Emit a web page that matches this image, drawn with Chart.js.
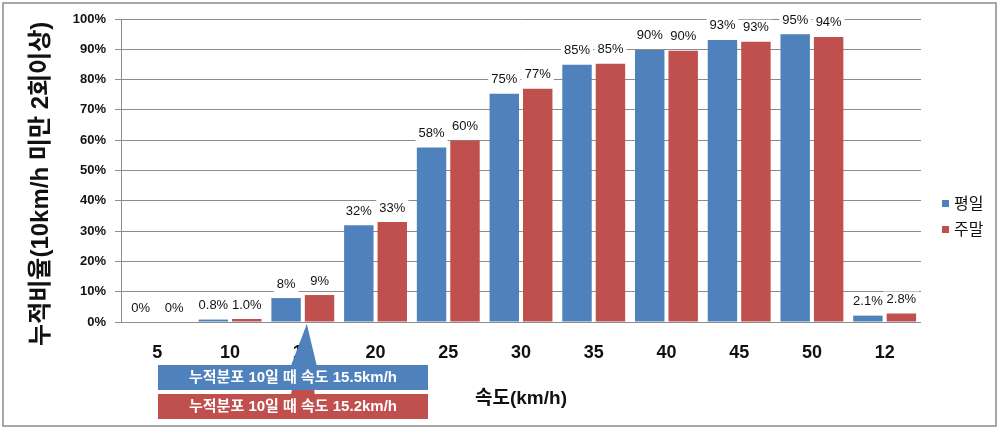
<!DOCTYPE html>
<html>
<head>
<meta charset="utf-8">
<script src="https://cdn.jsdelivr.net/npm/chart.js@4.4.0/dist/chart.umd.min.js"></script>
<style>
  html, body { margin: 0; padding: 0; background: #fff; }
  #wrap { width: 1000px; height: 429px; position: relative; }
</style>
</head>
<body>
<div id="wrap"><canvas id="chart"></canvas></div>
<script>
// speed categories (last one is labelled "12" in the source)
const SPEEDS = ['5', '10', '15', '20', '25', '30', '35', '40', '45', '50', '12'];

// cumulative share (%) — weekday / weekend
const WEEKDAY = [0, 0.8, 7.9, 31.9, 57.6, 75.3, 84.9, 89.8, 93.1, 95.0, 2.1];
const WEEKEND = [0, 1.0, 8.9, 33.0, 59.9, 77.0, 85.2, 89.5, 92.5, 94.1, 2.8];

// value labels as printed above the bars
const WEEKDAY_LABELS = ['0%', '0.8%', '8%', '32%', '58%', '75%', '85%', '90%', '93%', '95%', '2.1%'];
const WEEKEND_LABELS = ['0%', '1.0%', '9%', '33%', '60%', '77%', '85%', '90%', '93%', '94%', '2.8%'];

const SERIES_NAMES = ['평일', '주말'];
const CALLOUT_TEXTS = ['누적분포 10일 때 속도 15.5km/h', '누적분포 10일 때 속도 15.2km/h'];

const BLUE = '#4f81bd';
const RED = '#c0504d';
const GRID = '#8c8c8c';
const FONT = "'Liberation Sans', 'Noto Sans CJK KR', sans-serif";

// outer frame
const framePlugin = {
  id: 'frame',
  beforeDraw(chart) {
    const ctx = chart.ctx;
    ctx.save();
    ctx.fillStyle = '#fff';
    ctx.fillRect(0, 0, chart.width, chart.height);
    ctx.strokeStyle = '#8a8a8a';
    ctx.lineWidth = 1.5;
    ctx.strokeRect(3, 3, chart.width - 7, chart.height - 6);
    ctx.restore();
  },
};

// value labels with white background
const valueLabels = {
  id: 'valueLabels',
  afterDatasetsDraw(chart) {
    const ctx = chart.ctx;
    const labelSets = [WEEKDAY_LABELS, WEEKEND_LABELS];
    ctx.save();
    ctx.font = '13px ' + FONT;
    ctx.textAlign = 'center';
    ctx.textBaseline = 'middle';
    chart.data.datasets.forEach((ds, i) => {
      chart.getDatasetMeta(i).data.forEach((bar, j) => {
        const txt = labelSets[i][j];
        const y = bar.y - 14;
        const w = ctx.measureText(txt).width + 6;
        ctx.fillStyle = '#fff';
        ctx.fillRect(bar.x - w / 2, y - 8, w, 16);
        ctx.fillStyle = '#111';
        ctx.fillText(txt, bar.x, y);
      });
    });
    ctx.restore();
  },
};

// legend on the right + callouts under the "15" category
const extras = {
  id: 'extras',
  afterDraw(chart) {
    const ctx = chart.ctx;
    const area = chart.chartArea;
    ctx.save();

    // legend
    ctx.font = '16px ' + FONT;
    ctx.textBaseline = 'middle';
    ctx.textAlign = 'left';
    chart.data.datasets.forEach((ds, i) => {
      const y = 205 + i * 26;
      ctx.fillStyle = ds.backgroundColor;
      ctx.fillRect(area.right + 21, y - 5, 7, 7);
      ctx.fillStyle = '#111';
      ctx.fillText(ds.label, area.right + 33, y);
    });

    // callouts
    const cx = chart.scales.x.getPixelForValue(2) + 4;
    const tipY = area.bottom + 2;
    const boxL = 158, boxW = 270;
    const drawCallout = (color, boxTop, baseL, baseR, text) => {
      ctx.fillStyle = color;
      ctx.beginPath();
      ctx.moveTo(cx, tipY);
      ctx.lineTo(cx + baseR, boxTop + 1);
      ctx.lineTo(cx + baseL, boxTop + 1);
      ctx.closePath();
      ctx.fill();
      ctx.fillRect(boxL, boxTop, boxW, 25);
      ctx.fillStyle = '#fff';
      ctx.font = 'bold 15px ' + FONT;
      ctx.textAlign = 'center';
      ctx.fillText(text, boxL + boxW / 2, boxTop + 13);
    };
    drawCallout(RED, 394, -16, 8, CALLOUT_TEXTS[1]);
    drawCallout(BLUE, 365, -16, 10, CALLOUT_TEXTS[0]);

    ctx.restore();
  },
};

new Chart(document.getElementById('chart'), {
  type: 'bar',
  data: {
    labels: SPEEDS,
    datasets: [
      { label: SERIES_NAMES[0], data: WEEKDAY, backgroundColor: BLUE },
      { label: SERIES_NAMES[1], data: WEEKEND, backgroundColor: RED },
    ],
  },
  options: {
    responsive: true,
    maintainAspectRatio: false,
    animation: false,
    categoryPercentage: 0.92,
    barPercentage: 0.88,
    layout: { padding: { top: 19, left: 5, right: 79, bottom: 5 } },
    plugins: {
      legend: { display: false },
      tooltip: { enabled: false },
    },
    scales: {
      x: {
        grid: { display: false, drawTicks: false },
        border: { display: false },
        ticks: {
          color: '#111',
          padding: 20,
          font: { family: FONT, size: 18, weight: 'bold' },
        },
        title: {
          display: true,
          text: '속도(km/h)',
          color: '#111',
          padding: { top: 0, bottom: 14 },
          font: { family: FONT, size: 19, weight: 'bold' },
        },
        afterFit(scale) { scale.height = 102; },
      },
      y: {
        min: 0,
        max: 100,
        grid: { color: GRID, tickLength: 6, drawTicks: true },
        border: { display: true, color: GRID },
        ticks: {
          stepSize: 10,
          padding: 9,
          color: '#111',
          font: { family: FONT, size: 13, weight: 'bold' },
          callback: (v) => v + '%',
        },
        title: {
          display: true,
          // trailing spaces nudge the rotated title down, as in the source
          text: '누적비율(10km/h 미만 2회이상)\u00a0\u00a0\u00a0\u00a0',
          color: '#111',
          padding: { top: 22, bottom: 0 },
          font: { family: FONT, size: 24, weight: 'bold' },
        },
        afterFit(scale) { scale.width = 116; },
      },
    },
  },
  plugins: [framePlugin, valueLabels, extras],
});
</script>
</body>
</html>
